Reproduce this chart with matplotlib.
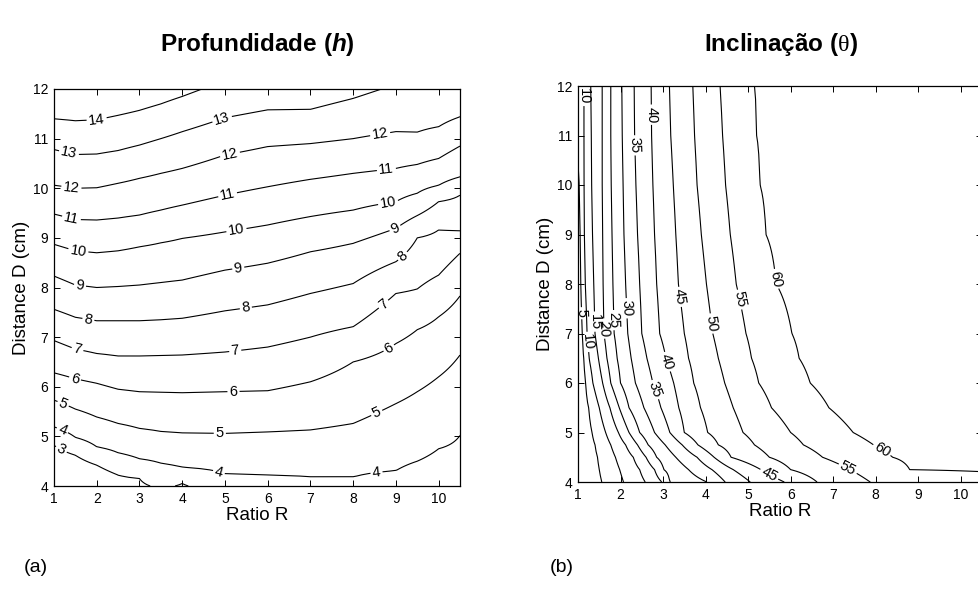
import numpy as np
import matplotlib
matplotlib.use("Agg")
import matplotlib.pyplot as plt

nan = np.nan

# ---------------- (a) depth h : D position of each contour, per R column ----------------
h_levels = [3, 4, 5, 6, 7, 8, 9, 10, 11, 12, 13, 14]
h_R = [1, 1.5, 2, 2.5, 3, 3.5, 4, 5, 6, 7, 8, 9, 9.5, 10, 10.5]
D_h3 = [4.82, 4.62, 4.42, 4.22, 4.15, nan, 4.05, nan, nan, nan, nan, nan, nan, nan, nan]
D_h4 = [5.19, 4.98, 4.79, 4.67, 4.55, 4.46, 4.38, 4.25, 4.22, 4.18, 4.18, 4.31, 4.50, 4.75, 5.02]
D_h5 = [5.73, 5.55, 5.39, 5.26, 5.16, 5.10, 5.07, 5.06, 5.09, 5.13, 5.26, 5.66, 5.90, 6.20, 6.64]
D_h6 = [6.28, 6.16, 6.07, 5.95, 5.90, 5.89, 5.88, 5.90, 5.92, 6.10, 6.50, 6.87, 7.15, 7.41, 7.83]
D_h7 = [6.93, 6.76, 6.67, 6.62, 6.62, 6.63, 6.64, 6.70, 6.80, 7.00, 7.21, 7.88, 7.97, 8.25, 8.69]
D_h8 = [7.56, 7.40, 7.33, 7.33, 7.33, 7.35, 7.38, 7.53, 7.65, 7.88, 8.08, 8.52, 9.00, 9.16, 9.14]
D_h9 = [8.23, 8.05, 8.00, 8.02, 8.05, 8.10, 8.15, 8.35, 8.49, 8.72, 8.89, 9.19, 9.45, 9.73, 9.86]
D_h10 = [8.87, 8.74, 8.70, 8.74, 8.82, 8.90, 8.99, 9.12, 9.26, 9.43, 9.56, 9.73, 9.90, 10.06, 10.23]
D_h11 = [9.48, 9.37, 9.36, 9.40, 9.46, 9.56, 9.66, 9.86, 10.03, 10.18, 10.30, 10.40, 10.48, 10.60, 10.85]
D_h12 = [10.06, 10.00, 10.01, 10.10, 10.20, 10.30, 10.40, 10.67, 10.84, 10.90, 11.00, 11.14, 11.13, 11.24, 11.44]
D_h13 = [10.78, 10.68, 10.69, 10.76, 10.87, 11.00, 11.14, 11.42, 11.58, 11.59, 11.81, nan, nan, nan, nan]
D_h14 = [11.40, 11.36, 11.38, 11.47, 11.57, 11.70, 11.85, nan, nan, nan, nan, nan, nan, nan, nan]
h_bottom = [1.5, 1.8, 2.2, 2.7, 2.9, 3.1, 2.95, 3.3, 3.3, 3.35, 3.35, 3.4, 3.5, 3.6, 3.7]   # h at D=4
h_top = [14.9, 14.9, 14.9, 14.8, 14.6, 14.4, 14.2, 13.77, 13.55, 13.5, 13.2, 12.9, 12.9, 12.95, 12.7]  # h at D=12

h_label_pos = [(2.0, 11.37), (1.36, 10.75), (4.92, 11.43), (1.41, 10.03), (5.12, 10.67), (8.63, 11.1),
               (1.41, 9.40), (5.06, 9.88), (8.78, 10.36), (1.57, 8.76), (5.27, 9.15), (8.82, 9.70),
               (1.61, 8.06), (5.31, 8.40), (8.98, 9.20), (1.80, 7.33), (5.49, 7.58), (9.14, 8.65),
               (1.55, 6.76), (5.24, 6.73), (8.82, 7.55), (1.49, 6.16), (5.2, 5.90), (8.82, 6.80),
               (1.22, 5.67), (4.88, 5.06), (8.59, 5.40), (1.18, 5.09), (4.85, 4.25), (8.55, 4.25),
               (1.18, 4.75)]

# ---------------- (b) inclination theta : R position of each contour, per D row ----------------
t_levels = [5, 10, 15, 20, 25, 30, 35, 40, 45, 50, 55, 60]
t_D = [4.0, 4.25, 4.5, 4.75, 5.0, 5.5, 6.0, 6.5, 7.0, 8.0, 9.0, 10.0, 11.0, 12.0]
R_t5 = [1.56, 1.50, 1.46, 1.40, 1.33, 1.25, 1.18, 1.14, 1.10, 1.07, 1.05, 1.03, nan, nan]
R_t10 = [2.07, 1.98, 1.88, 1.77, 1.65, 1.50, 1.35, 1.26, 1.21, 1.17, 1.15, 1.14, 1.14, 1.14]
R_t15 = [2.58, 2.45, 2.30, 2.12, 1.95, 1.75, 1.58, 1.48, 1.40, 1.37, 1.34, 1.32, 1.31, 1.30]
R_t20 = [2.97, 2.80, 2.60, 2.40, 2.20, 1.97, 1.77, 1.68, 1.61, 1.59, 1.58, 1.57, 1.57, 1.57]
R_t25 = [3.16, 3.02, 2.85, 2.65, 2.45, 2.20, 2.00, 1.92, 1.85, 1.82, 1.80, 1.78, 1.77, 1.77]
R_t30 = [4.03, 3.60, 3.30, 3.05, 2.80, 2.55, 2.35, 2.25, 2.17, 2.12, 2.08, 2.06, 2.04, 2.03]
R_t35 = [4.46, 4.15, 3.80, 3.45, 3.16, 2.95, 2.76, 2.62, 2.50, 2.45, 2.40, 2.36, 2.33, 2.32]
R_t40 = [5.05, 4.65, 4.20, 3.82, 3.50, 3.37, 3.25, 3.07, 2.92, 2.85, 2.80, 2.76, 2.73, 2.72]
R_t45 = [5.85, 5.30, 4.60, 4.30, 4.05, 3.88, 3.72, 3.60, 3.50, 3.36, 3.30, 3.24, 3.18, 3.15]
R_t50 = [6.62, 6.00, 5.50, 5.15, 4.88, 4.65, 4.45, 4.30, 4.17, 4.02, 3.90, 3.80, 3.74, 3.70]
R_t55 = [7.87, 7.40, 6.75, 6.30, 6.00, 5.55, 5.25, 5.08, 4.95, 4.72, 4.58, 4.47, 4.40, 4.34]
R_t60 = [nan, 8.80, 8.40, 7.95, 7.47, 6.90, 6.46, 6.20, 6.03, 5.66, 5.42, 5.28, 5.20, 5.15]
t_left = [0.5, 0.8, 1.0, 1.0, 1.0, 1.5, 2.0, 2.5, 3.0, 3.5, 4.0, 4.5, 5.6, 5.6]     # theta at R=1
t_right = [58, 60.4, 63, 66, 68, 70, 71, 72, 72, 72, 72, 72, 72, 72]            # theta at R=10.5

t_label_pos = [(1.15, 11.8), (2.68, 11.42), (2.30, 10.8), (5.64, 8.1), (4.77, 7.68), (3.40, 7.74),
               (4.12, 7.20), (2.15, 7.51), (1.09, 7.41), (1.39, 7.24), (1.84, 7.27), (1.61, 7.10),
               (1.23, 6.83), (3.10, 6.43), (2.80, 5.86), (8.15, 4.65), (7.35, 4.28), (5.5, 4.16)]

R_min, R_max, D_min, D_max = 1.0, 10.5, 4.0, 12.0

# ---------------- build fields for the contour routine ----------------
h_traces = [D_h3, D_h4, D_h5, D_h6, D_h7, D_h8, D_h9, D_h10, D_h11, D_h12, D_h13, D_h14]
D_fine = np.linspace(D_min, D_max, 321)
H = np.zeros((len(D_fine), len(h_R)))
for j in range(len(h_R)):
    ds, vs = [D_min], [h_bottom[j]]
    for lev, tr in zip(h_levels, h_traces):
        if not np.isnan(tr[j]):
            ds.append(tr[j]); vs.append(lev)
    ds.append(D_max); vs.append(h_top[j])
    H[:, j] = np.interp(D_fine, ds, vs)

t_traces = [R_t5, R_t10, R_t15, R_t20, R_t25, R_t30, R_t35, R_t40, R_t45, R_t50, R_t55, R_t60]
R_fine = np.linspace(R_min, R_max, 381)
T = np.zeros((len(t_D), len(R_fine)))
for i in range(len(t_D)):
    rs, vs = [R_min], [t_left[i]]
    for lev, tr in zip(t_levels, t_traces):
        if not np.isnan(tr[i]):
            rs.append(tr[i]); vs.append(lev)
    rs.append(R_max); vs.append(t_right[i])
    T[i, :] = np.interp(R_fine, rs, vs)

# ---------------- figure ----------------
plt.rcParams['font.family'] = ['Liberation Sans', 'DejaVu Sans']
plt.rcParams['mathtext.fontset'] = 'custom'
plt.rcParams['mathtext.rm'] = 'Liberation Serif'
plt.rcParams['mathtext.it'] = 'Liberation Sans:italic'
plt.rcParams['mathtext.bf'] = 'Liberation Sans:bold'
try:
    plt.rcParams['mathtext.bfit'] = 'Liberation Sans:italic:bold'
    h_sym = r'$\mathbfit{h}$'
except KeyError:
    h_sym = r'$\mathbf{h}$'

W, Hpx = 979, 592
fig = plt.figure(figsize=(W / 100, Hpx / 100), dpi=100)

def frac(x0, y0, x1, y1):
    return [x0 / W, 1 - y1 / Hpx, (x1 - x0) / W, (y1 - y0) / Hpx]

axA = fig.add_axes(frac(54, 89, 460, 486))
axB = fig.add_axes(frac(578, 86, 982, 482))

for ax in (axA, axB):
    ax.set_xlim(R_min, R_max)
    ax.set_ylim(D_min, D_max)
    ax.set_xticks(range(1, 11))
    ax.set_yticks(range(4, 13))
    ax.tick_params(direction='in', top=True, right=True, length=4, width=0.7,
                   labelsize=10, pad=4)
    for s in ax.spines.values():
        s.set_linewidth(0.9)
    ax.set_xlabel('Ratio R', fontsize=13.5, labelpad=1)
    ax.set_ylabel('Distance D (cm)', fontsize=13.5, labelpad=2)

csA = axA.contour(h_R, D_fine, H, levels=h_levels, colors='k', linewidths=0.8)
axA.clabel(csA, fmt='%d', fontsize=10.5, inline=True, inline_spacing=2, manual=h_label_pos)

csB = axB.contour(R_fine, t_D, T, levels=t_levels, colors='k', linewidths=0.8)
axB.clabel(csB, fmt='%d', fontsize=10.5, inline=True, inline_spacing=2, manual=t_label_pos)

fig.text(257 / W, 1 - 45 / Hpx, 'Profundidade (' + h_sym + ')', ha='center', va='center',
         fontsize=17.5, fontweight='bold')
fig.text(781 / W, 1 - 45 / Hpx, r'Inclinação ($\mathrm{\theta}$)', ha='center', va='center',
         fontsize=17.5, fontweight='bold')
fig.text(36 / W, 1 - 567 / Hpx, '(a)', ha='center', va='center', fontsize=14)
fig.text(562 / W, 1 - 567 / Hpx, '(b)', ha='center', va='center', fontsize=14)

fig.savefig('out.png', dpi=100)
